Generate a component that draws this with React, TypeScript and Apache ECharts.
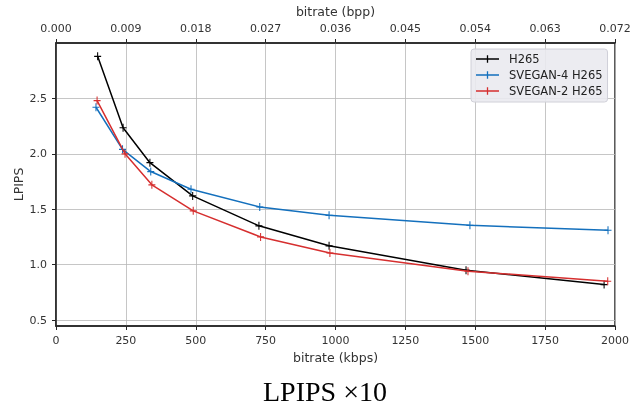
import React, { useEffect, useRef } from "react";
import * as echarts from "echarts";

const seriesNames = ["H265", "SVEGAN-4 H265", "SVEGAN-2 H265"];
const seriesColors = ["#000000", "#1470bd", "#d62f2f"];

const h265Kbps = [149, 240, 336, 489, 726, 977, 1467, 1961];
const h265Lpips = [2.88, 2.235, 1.92, 1.62, 1.35, 1.17, 0.95, 0.82];

const svegan4Kbps = [143, 238, 339, 483, 729, 977, 1481, 1975];
const svegan4Lpips = [2.42, 2.04, 1.84, 1.68, 1.52, 1.445, 1.355, 1.31];

const svegan2Kbps = [147, 247, 343, 491, 732, 980, 1474, 1974];
const svegan2Lpips = [2.48, 2.0, 1.72, 1.485, 1.25, 1.105, 0.94, 0.85];

const yTickValues = [0.5, 1.0, 1.5, 2.0, 2.5];

const plusSymbol = "path://M0,4.25h10v1.5h-10zM4.25,0h1.5v10h-1.5z";
const legendIcon = "path://M0,3.1h23v1.3h-23zM10.85,0h1.3v7.5h-1.3z";

const axisColor = "#262626";
const labelColor = "#333333";
const gridColor = "#b8b8b8";
const font = "DejaVu Sans";

export default function App() {
  const ref = useRef<HTMLDivElement>(null);
  useEffect(() => {
    if (!ref.current) return;
    const chart = echarts.init(ref.current, null, { renderer: "svg" });
    const pairs = [
      h265Kbps.map((x, i) => [x, h265Lpips[i]]),
      svegan4Kbps.map((x, i) => [x, svegan4Lpips[i]]),
      svegan2Kbps.map((x, i) => [x, svegan2Lpips[i]]),
    ];
    chart.setOption({
      animation: false,
      grid: {
        left: 56,
        right: 15,
        top: 43,
        bottom: 83,
        containLabel: false,
        outerBoundsMode: "none",
        show: true,
        borderColor: axisColor,
        borderWidth: 1.5,
        backgroundColor: "transparent",
      },
      legend: {
        orient: "vertical",
        left: 471,
        top: 49,
        padding: [4, 5, 5, 5],
        itemGap: 4,
        itemWidth: 23,
        itemHeight: 7.5,
        backgroundColor: "rgba(234,234,240,0.9)",
        borderColor: "#d0d0d8",
        borderWidth: 1,
        borderRadius: 3,
        textStyle: {
          fontFamily: font,
          fontSize: 11.5,
          color: "#222",
          padding: [0, 0, 0, 5],
        },
        data: seriesNames.map((n) => ({ name: n, icon: legendIcon })),
      },
      xAxis: [
        {
          type: "value",
          position: "bottom",
          min: 0,
          max: 2000,
          interval: 250,
          name: "bitrate (kbps)",
          nameLocation: "middle",
          nameGap: 25,
          nameTextStyle: { fontFamily: font, fontSize: 12.5, color: labelColor },
          axisLine: { show: true, lineStyle: { color: axisColor, width: 1.5 } },
          axisTick: { show: true, length: 4, lineStyle: { color: axisColor, width: 1 } },
          axisLabel: {
            fontFamily: font,
            fontSize: 11,
            color: labelColor,
            margin: 9,
            formatter: (v: number) => String(v),
          },
          splitLine: { show: true, lineStyle: { color: gridColor, width: 0.8 } },
        },
        {
          type: "value",
          position: "top",
          min: 0,
          max: 0.072,
          interval: 0.009,
          name: "bitrate (bpp)",
          nameLocation: "middle",
          nameGap: 22,
          nameTextStyle: { fontFamily: font, fontSize: 12.5, color: labelColor },
          axisLine: { show: true, lineStyle: { color: axisColor, width: 1.5 } },
          axisTick: { show: true, length: 4, lineStyle: { color: axisColor, width: 1 } },
          axisLabel: {
            fontFamily: font,
            fontSize: 11,
            color: labelColor,
            margin: 9,
            formatter: (v: number) => v.toFixed(3),
          },
          splitLine: { show: false },
        },
      ],
      yAxis: {
        type: "value",
        min: 0.446,
        max: 3.0,
        name: "LPIPS",
        nameLocation: "middle",
        nameGap: 31,
        nameMoveOverlap: false,
        nameTextStyle: { fontFamily: font, fontSize: 12.5, color: labelColor },
        axisLine: { show: true, lineStyle: { color: axisColor, width: 1.5 } },
        axisTick: { show: true, length: 4, customValues: yTickValues, lineStyle: { color: axisColor, width: 1 } },
        axisLabel: {
          fontFamily: font,
          fontSize: 11,
          color: labelColor,
          margin: 9,
          customValues: yTickValues,
          formatter: (v: number) => v.toFixed(1),
        },
        splitLine: { show: true, lineStyle: { color: gridColor, width: 0.8 } },
      },
      graphic: [
        {
          type: "text",
          left: 263,
          top: 377,
          style: {
            text: "LPIPS \u00d710",
            fontFamily: "Liberation Serif",
            fontSize: 28,
            fill: "#000",
          },
        },
      ],
      series: pairs.map((d, i) => ({
        name: seriesNames[i],
        type: "line",
        xAxisIndex: 0,
        data: d,
        symbol: plusSymbol,
        symbolSize: [7, 8],
        showSymbol: true,
        lineStyle: { color: seriesColors[i], width: 1.5 },
        itemStyle: { color: seriesColors[i] },
        emphasis: { disabled: true },
        z: 3 + i,
      })),
    });
    return () => chart.dispose();
  }, []);
  return (
    <div
      ref={ref}
      style={{ position: "fixed", left: 0, top: 0, width: 630, height: 409 }}
    />
  );
}
